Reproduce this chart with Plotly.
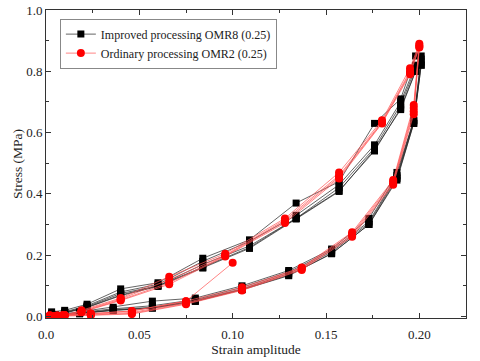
import plotly.graph_objects as go

# Improved processing OMR8 (0.25): loading branch then unloading branch, per cycle
omr8_load_x = [0.003, 0.010, 0.022, 0.040, 0.060, 0.084, 0.109, 0.134, 0.157, 0.176, 0.190, 0.198, 0.201]
omr8_unload_x = [0.197, 0.188, 0.173, 0.153, 0.130, 0.105, 0.080, 0.057, 0.036, 0.018, 0.005]
omr8_load_y = [
    [0.015, 0.020, 0.040, 0.090, 0.110, 0.190, 0.250, 0.370, 0.440, 0.630, 0.710, 0.850, 0.850],
    [0.010, 0.015, 0.035, 0.080, 0.105, 0.180, 0.245, 0.330, 0.430, 0.560, 0.700, 0.820, 0.840],
    [0.008, 0.013, 0.032, 0.075, 0.100, 0.170, 0.230, 0.320, 0.420, 0.550, 0.690, 0.810, 0.830],
    [0.007, 0.012, 0.030, 0.070, 0.100, 0.160, 0.225, 0.320, 0.410, 0.540, 0.680, 0.800, 0.820],
    [0.006, 0.011, 0.029, 0.068, 0.098, 0.158, 0.222, 0.318, 0.408, 0.545, 0.675, 0.800, 0.820],
]
omr8_unload_y = [
    [0.640, 0.470, 0.320, 0.220, 0.150, 0.100, 0.060, 0.050, 0.030, 0.015, 0.005],
    [0.640, 0.460, 0.310, 0.215, 0.145, 0.095, 0.055, 0.035, 0.025, 0.012, 0.004],
    [0.635, 0.455, 0.305, 0.210, 0.140, 0.090, 0.052, 0.030, 0.022, 0.010, 0.003],
    [0.630, 0.450, 0.300, 0.205, 0.135, 0.088, 0.050, 0.028, 0.020, 0.009, 0.003],
    [0.630, 0.445, 0.300, 0.205, 0.133, 0.087, 0.049, 0.027, 0.020, 0.009, 0.002],
]

# Ordinary processing OMR2 (0.25); the record starts part-way through an unloading
omr2_start_x = [0.100]
omr2_start_y = [0.175]
omr2_load_x = [0.002, 0.006, 0.010, 0.019, 0.040, 0.066, 0.096, 0.128, 0.157, 0.180, 0.195, 0.200]
omr2_unload_x = [0.197, 0.186, 0.164, 0.137, 0.105, 0.075, 0.046, 0.024, 0.009, 0.004]
omr2_load_y = [
    [0.004, 0.003, 0.005, 0.020, 0.060, 0.130, 0.205, 0.320, 0.470, 0.640, 0.810, 0.890],
    [0.003, 0.002, 0.004, 0.017, 0.057, 0.120, 0.200, 0.315, 0.460, 0.635, 0.800, 0.885],
    [0.002, 0.002, 0.003, 0.015, 0.054, 0.110, 0.198, 0.310, 0.455, 0.632, 0.795, 0.880],
    [0.002, 0.001, 0.003, 0.014, 0.052, 0.105, 0.196, 0.305, 0.450, 0.630, 0.790, 0.878],
]
omr2_unload_y = [
    [0.690, 0.445, 0.275, 0.160, 0.095, 0.050, 0.018, 0.010, 0.004, 0.001],
    [0.680, 0.440, 0.270, 0.158, 0.090, 0.045, 0.013, 0.007, 0.003, 0.001],
    [0.670, 0.435, 0.265, 0.155, 0.087, 0.042, 0.010, 0.005, 0.002, 0.000],
    [0.660, 0.430, 0.260, 0.152, 0.085, 0.040, 0.008, 0.004, 0.002, 0.000],
]
omr2_first_unload_y = [0.050, 0.018, 0.010, 0.004, 0.001]


def chain(load_x, load_ys, unload_x, unload_ys):
    xs, ys = [], []
    for ly, uy in zip(load_ys, unload_ys):
        xs += load_x + unload_x
        ys += ly + uy
    return xs, ys


x8, y8 = chain(omr8_load_x, omr8_load_y, omr8_unload_x, omr8_unload_y)
x2, y2 = chain(omr2_load_x, omr2_load_y, omr2_unload_x, omr2_unload_y)
x2 = omr2_start_x + omr2_unload_x[5:] + x2
y2 = omr2_start_y + omr2_first_unload_y + y2

SERIF = "Times New Roman, Liberation Serif, serif"

fig = go.Figure()
fig.add_trace(go.Scatter(
    x=x8, y=y8, mode="lines+markers", name="Improved processing OMR8 (0.25)",
    line=dict(color="#222", width=0.7),
    marker=dict(symbol="square", size=7, color="black"),
))
fig.add_trace(go.Scatter(
    x=x2, y=y2, mode="lines+markers", name="Ordinary processing OMR2 (0.25)",
    line=dict(color="#ff5050", width=0.7),
    marker=dict(symbol="circle", size=8, color="#ff0000"),
))

axis_common = dict(
    showline=True, linecolor="#333", linewidth=1, mirror="ticks",
    ticks="inside", ticklen=5, tickcolor="#333", showgrid=False, zeroline=False,
    tickfont=dict(family=SERIF, size=13, color="#222"), automargin=False,
    minor=dict(ticks="inside", ticklen=3, tickcolor="#333"),
)
fig.update_xaxes(
    range=[0, 0.225], tickvals=[0, 0.05, 0.10, 0.15, 0.20],
    ticktext=["0.0", "0.05", "0.10", "0.15", "0.20"], ticklabelstandoff=4,
    title=dict(text="Strain amplitude", font=dict(family=SERIF, size=13.5, color="#222"), standoff=0),
    minor_dtick=0.025, **axis_common,
)
fig.update_yaxes(
    range=[-0.005, 1.0], tickvals=[0, 0.2, 0.4, 0.6, 0.8, 1.0],
    ticktext=["0.0", "0.2", "0.4", "0.6", "0.8", "1.0"],
    title=dict(text="Stress (MPa)", font=dict(family=SERIF, size=13.5, color="#222"), standoff=0),
    minor_dtick=0.1, **axis_common,
)
fig.update_layout(
    width=480, height=361,
    margin=dict(l=46, r=14, t=10, b=43),
    plot_bgcolor="white", paper_bgcolor="white",
    legend=dict(
        x=0.033, y=0.972, xanchor="left", yanchor="top",
        bordercolor="#888", borderwidth=1, bgcolor="white",
        font=dict(family=SERIF, size=12, color="#222"),
        tracegroupgap=0, itemwidth=30,
    ),
)
fig.write_html(
    "out.html", config={"displayModeBar": False},
    post_script="document.body.style.margin='0';",
)
